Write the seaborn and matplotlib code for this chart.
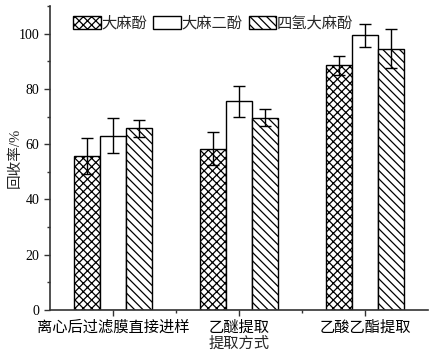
import pandas as pd
import matplotlib.pyplot as plt
import seaborn as sns
from matplotlib.ticker import MultipleLocator, FixedLocator

# Data
methods = ["离心后过滤膜直接进样", "乙醚提取", "乙酸乙酯提取"]
compounds = ["大麻酚", "大麻二酚", "四氢大麻酚"]
cbn_mean = [55.7, 58.4, 88.5]
cbd_mean = [63.0, 75.5, 99.4]
thc_mean = [65.7, 69.5, 94.5]
cbn_err = [6.6, 6.1, 3.4]
cbd_err = [6.3, 5.5, 4.2]
thc_err = [3.1, 3.1, 7.1]

means = [cbn_mean, cbd_mean, thc_mean]
errs = [cbn_err, cbd_err, thc_err]

df = pd.DataFrame({
    "method": [m for c in compounds for m in methods],
    "compound": [c for c in compounds for m in methods],
    "recovery": [v for vals in means for v in vals],
})

sns.set_style("ticks")
plt.rcParams["font.family"] = ["Liberation Serif", "Noto Sans CJK SC"]
plt.rcParams["hatch.linewidth"] = 0.9

fig = plt.figure(figsize=(4.34, 3.57), dpi=100)
ax = fig.add_axes([0.115, 0.132, 0.871, 0.851])

sns.barplot(data=df, x="method", y="recovery", hue="compound", order=methods,
            hue_order=compounds, width=0.62, errorbar=None, palette=["white"] * 3,
            edgecolor="black", linewidth=1.0, saturation=1, ax=ax, legend=False)

hatches = ["xxxx", "", "\\\\\\\\"]
for cont, h, err in zip(ax.containers, hatches, errs):
    xs = []
    ys = []
    for bar in cont:
        bar.set_hatch(h)
        xs.append(bar.get_x() + bar.get_width() / 2)
        ys.append(bar.get_height())
    ax.errorbar(xs, ys, yerr=err, fmt="none", ecolor="black", elinewidth=1.0,
                capsize=4, capthick=1.0)

ax.set_xlim(-0.5, 2.5)
ax.set_ylim(0, 110)
ax.yaxis.set_major_locator(MultipleLocator(20))
ax.yaxis.set_minor_locator(MultipleLocator(10))
ax.xaxis.set_minor_locator(FixedLocator([0.5, 1.5]))
ax.tick_params(axis="both", which="major", direction="out", length=4, width=1,
               labelsize=10, colors="#333333", labelcolor="black")
ax.tick_params(axis="both", which="minor", direction="out", length=2.5, width=1,
               colors="#333333")
for lab in ax.get_xticklabels():
    lab.set_fontsize(11)

sns.despine(ax=ax)
for s in ["left", "bottom"]:
    ax.spines[s].set_color("#333333")
    ax.spines[s].set_linewidth(1.2)

ax.set_xlabel("提取方式", fontsize=11, labelpad=1)
ax.set_ylabel("回收率/%", fontsize=10.5)
ax.yaxis.set_label_coords(-0.075, 0.5)

ax.legend(handles=list(ax.containers), labels=compounds, loc="upper left",
          bbox_to_anchor=(0.035, 1.0), ncol=3, frameon=False, fontsize=11,
          handlelength=1.8, handleheight=0.9, handletextpad=0.05,
          columnspacing=0.4, borderaxespad=0.25)

fig.savefig("out.png", dpi=100)
